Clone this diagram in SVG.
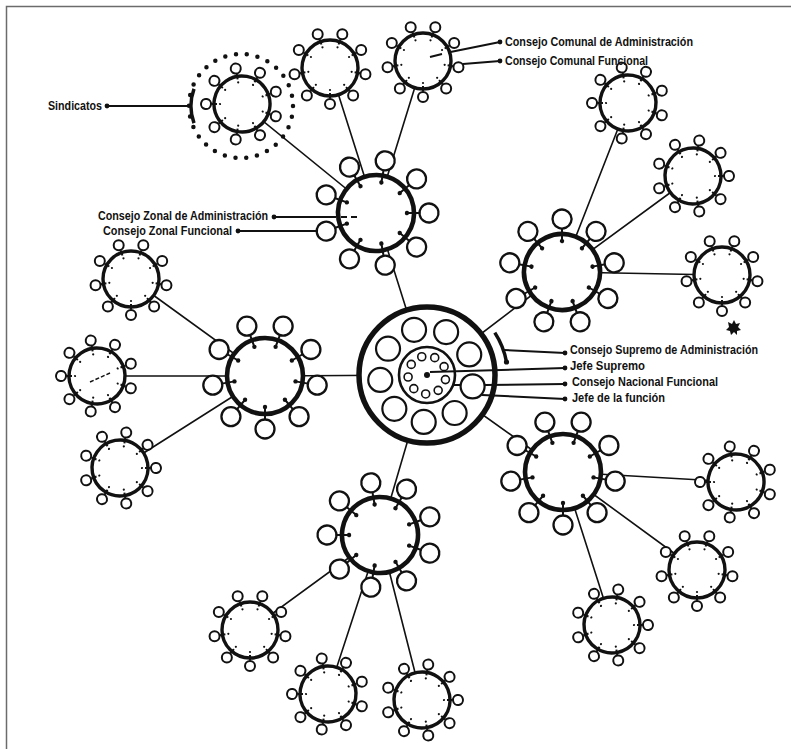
<svg xmlns="http://www.w3.org/2000/svg" xmlns:xlink="http://www.w3.org/1999/xlink" width="791" height="749" viewBox="0 0 791 749">
<style>
.cring{fill:#fff;stroke:#111;stroke-width:3.4}
.csat{fill:#fff;stroke:#111;stroke-width:2}
.zring{fill:#fff;stroke:#111;stroke-width:4.6}
.zsat{fill:#fff;stroke:#111;stroke-width:2.3}
.tick{stroke:#111;stroke-width:2;fill:none}
.dot{fill:#111}
.conn{stroke:#111;stroke-width:1.6;fill:none}
.lead{stroke:#111;stroke-width:2;fill:none}
.lbl{font-family:"Liberation Sans",Arial,sans-serif;font-size:12px;font-weight:bold;fill:#111}
</style>
<defs>
<g id="comunal">
<circle r="28" class="cring"/>
<path class="tick" d="M-8.55,-23.49L-10.43,-28.66M8.55,-23.49L10.43,-28.66M21.65,-12.5L26.41,-15.25M24.62,4.34L30.04,5.3M16.07,19.15L19.61,23.36M0,25L0,30.5M-16.07,19.15L-19.61,23.36M-24.62,4.34L-30.04,5.3M-21.65,-12.5L-26.41,-15.25"/>
<g class="dot"><circle cx="-7.52" cy="-20.67" r="1.1"/><circle cx="7.52" cy="-20.67" r="1.1"/><circle cx="19.05" cy="-11" r="1.1"/><circle cx="21.67" cy="3.82" r="1.1"/><circle cx="14.14" cy="16.85" r="1.1"/><circle cx="0" cy="22" r="1.1"/><circle cx="-14.14" cy="16.85" r="1.1"/><circle cx="-21.67" cy="3.82" r="1.1"/><circle cx="-19.05" cy="-11" r="1.1"/></g>
<g class="csat"><circle cx="-12.31" cy="-33.83" r="5"/><circle cx="12.31" cy="-33.83" r="5"/><circle cx="31.18" cy="-18" r="5"/><circle cx="35.45" cy="6.25" r="5"/><circle cx="23.14" cy="27.58" r="5"/><circle cx="0" cy="36" r="5"/><circle cx="-23.14" cy="27.58" r="5"/><circle cx="-35.45" cy="6.25" r="5"/><circle cx="-31.18" cy="-18" r="5"/></g>
</g>
<g id="zonal">
<circle r="38" class="zring"/>
<path class="tick" d="M-10.6,-29.13L-15.05,-41.35M10.6,-29.13L15.05,-41.35M26.85,-15.5L38.1,-22M30.53,5.38L43.33,7.64M19.93,23.75L28.28,33.7M0,31L0,44M-19.93,23.75L-28.28,33.7M-30.53,5.38L-43.33,7.64M-26.85,-15.5L-38.1,-22"/>
<g class="dot"><circle cx="-10.6" cy="-29.13" r="2.2"/><circle cx="10.6" cy="-29.13" r="2.2"/><circle cx="26.85" cy="-15.5" r="2.2"/><circle cx="30.53" cy="5.38" r="2.2"/><circle cx="19.93" cy="23.75" r="2.2"/><circle cx="0" cy="31" r="2.2"/><circle cx="-19.93" cy="23.75" r="2.2"/><circle cx="-30.53" cy="5.38" r="2.2"/><circle cx="-26.85" cy="-15.5" r="2.2"/></g>
<g class="zsat"><circle cx="-18.13" cy="-49.8" r="9.5"/><circle cx="18.13" cy="-49.8" r="9.5"/><circle cx="45.9" cy="-26.5" r="9.5"/><circle cx="52.19" cy="9.2" r="9.5"/><circle cx="34.07" cy="40.6" r="9.5"/><circle cx="0" cy="53" r="9.5"/><circle cx="-34.07" cy="40.6" r="9.5"/><circle cx="-52.19" cy="9.2" r="9.5"/><circle cx="-45.9" cy="-26.5" r="9.5"/></g>
</g>
</defs>
<rect width="791" height="749" fill="#fff"/>
<path d="M6.5,749V6.5H791" fill="none" stroke="#6b6b6b" stroke-width="1.5"/>

<g id="connectors" class="conn">
<path d="M427,375L376,213M427,375L562,272M427,375L265,376M427,375L563,472M427,375L380,535"/>
<path d="M376,213L242,104M376,213L330,68M376,213L423,61"/>
<path d="M562,272L628,103M562,272L693,176M562,272L722,275"/>
<path d="M563,472L736,482M563,472L697,570M563,472L612,625"/>
<path d="M380,535L250,630M380,535L328,694M380,535L422,700"/>
<path d="M265,376L131,279M265,376L97,376M265,376L120,468"/>
</g>

<g id="central" transform="translate(427,375)">
<circle r="68" fill="#fff" stroke="#111" stroke-width="5.5"/>
<g fill="#fff" stroke="#111" stroke-width="2.2">
<circle cx="-12.95" cy="-45.18" r="12"/><circle cx="19.12" cy="-42.94" r="12"/><circle cx="42.24" cy="-20.6" r="12"/><circle cx="45.6" cy="11.37" r="12"/><circle cx="27.63" cy="38.02" r="12"/><circle cx="-3.28" cy="46.89" r="12"/><circle cx="-32.65" cy="33.81" r="12"/><circle cx="-46.74" cy="4.91" r="12"/><circle cx="-38.96" cy="-26.28" r="12"/>
</g>
<circle r="28" fill="none" stroke="#111" stroke-width="2.6"/>
<g fill="#fff" stroke="#111" stroke-width="1.6">
<circle cx="-5.24" cy="-18.26" r="4"/><circle cx="7.73" cy="-17.36" r="4"/><circle cx="17.08" cy="-8.33" r="4"/><circle cx="18.44" cy="4.6" r="4"/><circle cx="11.17" cy="15.37" r="4"/><circle cx="-1.33" cy="18.95" r="4"/><circle cx="-13.2" cy="13.67" r="4"/><circle cx="-18.9" cy="1.99" r="4"/><circle cx="-15.75" cy="-10.62" r="4"/>
</g>
<circle r="3" class="dot"/>
</g>

<g id="zonal-top"><use xlink:href="#zonal" href="#zonal" transform="translate(376,213) rotate(-10)"/></g>
<g id="zonal-right-upper"><use xlink:href="#zonal" href="#zonal" transform="translate(562,272) rotate(20)"/></g>
<g id="zonal-left"><use xlink:href="#zonal" href="#zonal" transform="translate(265,376)"/></g>
<g id="zonal-right-lower"><use xlink:href="#zonal" href="#zonal" transform="translate(563,472)"/></g>
<g id="zonal-bottom"><use xlink:href="#zonal" href="#zonal" transform="translate(380,535) rotate(10)"/></g>

<g id="sindicatos-ring">
<circle cx="241" cy="106" r="52" fill="none" stroke="#111" stroke-width="4.5" stroke-linecap="round" stroke-dasharray="0 10.89"/>
</g>
<g id="comunal-sindicatos"><use xlink:href="#comunal" href="#comunal" transform="translate(242,104) rotate(10)"/></g>
<g id="comunal-top-mid"><use xlink:href="#comunal" href="#comunal" transform="translate(330,68)"/></g>
<g id="comunal-top-right"><use xlink:href="#comunal" href="#comunal" transform="translate(423,61)"/></g>
<g id="comunal-r1"><use xlink:href="#comunal" href="#comunal" transform="translate(628,103) rotate(10)"/></g>
<g id="comunal-r2"><use xlink:href="#comunal" href="#comunal" transform="translate(693,176) rotate(-10)"/></g>
<g id="comunal-r3"><use xlink:href="#comunal" href="#comunal" transform="translate(722,275)"/></g>
<g id="comunal-rl1"><use xlink:href="#comunal" href="#comunal" transform="translate(736,482) rotate(10)"/></g>
<g id="comunal-rl2"><use xlink:href="#comunal" href="#comunal" transform="translate(697,570)"/></g>
<g id="comunal-rl3"><use xlink:href="#comunal" href="#comunal" transform="translate(612,625) rotate(-10)"/></g>
<g id="comunal-b1"><use xlink:href="#comunal" href="#comunal" transform="translate(250,630)"/></g>
<g id="comunal-b2"><use xlink:href="#comunal" href="#comunal" transform="translate(328,694) rotate(10)"/></g>
<g id="comunal-b3"><use xlink:href="#comunal" href="#comunal" transform="translate(422,700) rotate(-10)"/></g>
<g id="comunal-l1"><use xlink:href="#comunal" href="#comunal" transform="translate(131,279)"/></g>
<g id="comunal-l2"><use xlink:href="#comunal" href="#comunal" transform="translate(97,376) rotate(10)"/><path d="M90,382L110,373" stroke="#111" stroke-width="1.5" stroke-dasharray="4 2"/></g>
<g id="comunal-l3"><use xlink:href="#comunal" href="#comunal" transform="translate(120,468) rotate(-10)"/></g>

<path id="blot" d="M728,322l4,2 2,-4 2,4 4,-1 -2,4 3,3 -4,1 0,4 -3,-3 -3,3 -1,-4 -4,-1 3,-3z" fill="#111"/>

<g id="leaders" class="lead">
<path d="M107,106H190"/>
<path d="M194,88.9A50,50 0 0 0 194,123.1" stroke-width="3.5"/>
<path d="M430,57L442,54M448,52.5L500,42"/>
<path d="M463,64L500,61"/>
<path d="M274,217H336M341,217H347M351,217H357"/>
<path d="M238,231H316.5"/>
<path d="M494.8,332.6A80,80 0 0 1 506.5,362" stroke-width="3.5"/>
<path d="M504,350L565,353"/>
<path d="M430,372L565,368"/>
<path d="M454,385H460.6M484.6,385L565,384"/>
<path d="M482,395L565,399"/>
</g>
<g id="leader-dots" class="dot">
<circle cx="107" cy="106" r="2.4"/>
<circle cx="500" cy="42" r="2.4"/>
<circle cx="500" cy="61" r="2.4"/>
<circle cx="274" cy="217" r="2.4"/>
<circle cx="238" cy="231" r="2.4"/>
<circle cx="506.5" cy="362" r="2.6"/>
<circle cx="565" cy="353" r="2.4"/>
<circle cx="565" cy="368" r="2.4"/>
<circle cx="565" cy="384" r="2.4"/>
<circle cx="565" cy="399" r="2.4"/>
</g>

<g id="labels" class="lbl">
<text x="48" y="110" textLength="54" lengthAdjust="spacingAndGlyphs">Sindicatos</text>
<text x="505" y="46" textLength="188" lengthAdjust="spacingAndGlyphs">Consejo Comunal de Administración</text>
<text x="505" y="65" textLength="143" lengthAdjust="spacingAndGlyphs">Consejo Comunal Funcional</text>
<text x="98" y="220" textLength="170" lengthAdjust="spacingAndGlyphs">Consejo Zonal de Administración</text>
<text x="103" y="235" textLength="129" lengthAdjust="spacingAndGlyphs">Consejo Zonal Funcional</text>
<text x="570" y="354" textLength="188" lengthAdjust="spacingAndGlyphs">Consejo Supremo de Administración</text>
<text x="570" y="370" textLength="75" lengthAdjust="spacingAndGlyphs">Jefe Supremo</text>
<text x="572" y="386" textLength="146" lengthAdjust="spacingAndGlyphs">Consejo Nacional Funcional</text>
<text x="572" y="402" textLength="93" lengthAdjust="spacingAndGlyphs">Jefe de la función</text>
</g>
</svg>
